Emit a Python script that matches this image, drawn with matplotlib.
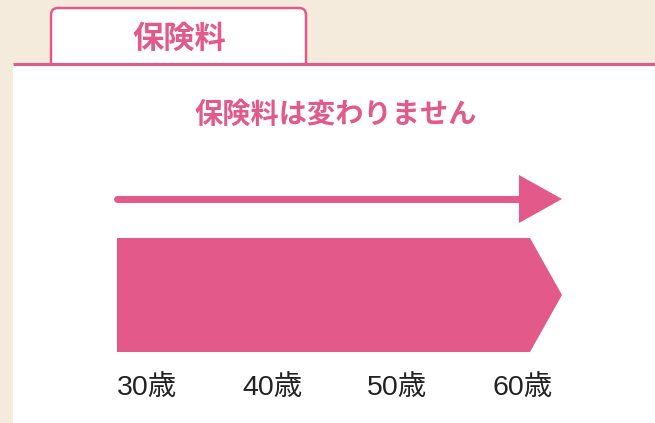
import matplotlib

matplotlib.use("Agg")
from matplotlib import pyplot as plt
from matplotlib.patches import FancyBboxPatch, Polygon, Rectangle

PINK = "#E2598A"
BEIGE = "#F5EBDD"
DARK = "#222222"

tab_label = "保険料"
headline = "保険料は変わりません"
ages = [30, 40, 50, 60]
age_suffix = "歳"

JP = ["Noto Sans CJK JP", "DejaVu Sans"]
NUM = ["Liberation Sans", "Noto Sans CJK JP"]


def age_to_x(age):
    # 30歳 -> left edge of bar, 10 years ~ 125 px
    return 117 + (age - ages[0]) * 12.5


fig = plt.figure(figsize=(6.55, 4.23), dpi=100)
fig.patch.set_facecolor(BEIGE)
ax = fig.add_axes([0, 0, 1, 1])
ax.set_xlim(0, 655)
ax.set_ylim(423, 0)
ax.axis("off")

# white panel
ax.add_patch(Rectangle((13, 64), 700, 400, facecolor="white", edgecolor="none"))

# tab (bottom part hidden under the panel)
ax.add_patch(FancyBboxPatch((51, 8), 255, 70,
                            boxstyle="round,pad=0,rounding_size=7",
                            facecolor="white", edgecolor=PINK, lw=1.8))
ax.add_patch(Rectangle((40, 65), 280, 25, facecolor="white", edgecolor="none"))
ax.plot([13, 655], [64, 64], color=PINK, lw=2.2, solid_capstyle="butt")
ax.text(179, 39, tab_label, color=PINK, fontsize=22.5, family=JP,
        ha="center", va="center", fontweight="bold")

ax.text(336, 115, headline, color=PINK, fontsize=20.3, family=JP,
        ha="center", va="center", fontweight="bold")

# arrow line
x0 = age_to_x(ages[0])
ax.plot([x0, 522], [199, 199], color=PINK, lw=5, solid_capstyle="round")
ax.add_patch(Polygon([(519, 175), (562, 199), (519, 223)], closed=True,
                     facecolor=PINK, edgecolor="none"))

# period bar
ax.add_patch(Polygon([(x0, 238), (530, 238), (562, 295), (530, 352), (x0, 352)],
                     closed=True, facecolor=PINK, edgecolor="none"))

for a in ages:
    ax.text(age_to_x(a), 388, f"{a}{age_suffix}", color=DARK, fontsize=20.5,
            family=NUM, ha="left", va="center")

plt.savefig("out.png", dpi=100, facecolor=BEIGE)
